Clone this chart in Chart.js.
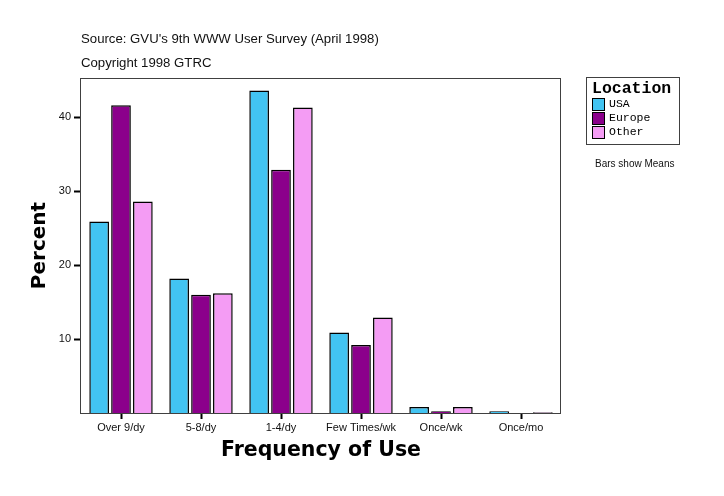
<!DOCTYPE html>
<html>
<head>
<meta charset="utf-8">
<script src="https://cdn.jsdelivr.net/npm/chart.js@4/dist/chart.umd.min.js"></script>
<style>
  html, body { margin: 0; padding: 0; background: #fff; }
  #wrap { position: relative; width: 724px; height: 496px; overflow: hidden; }
  canvas { position: absolute; left: 0; top: 0; }
  .note { position: absolute; font-family: "Liberation Sans", Arial, sans-serif; color: #111; white-space: nowrap; }
  #legend { position: absolute; left: 586px; top: 77px; width: 92px; height: 66px; border: 1px solid #404040; background: #fff; }
  #legend .ttl { position: absolute; left: 5px; top: 1px; font-family: "Liberation Mono", monospace; font-weight: bold; font-size: 16.5px; color: #000; }
  #legend .item { position: absolute; left: 5px; height: 14px; font-family: "Liberation Mono", monospace; font-size: 11.5px; color: #000; line-height: 14px; }
  #legend .sw { position: absolute; left: 0; top: 0; width: 11px; height: 11px; border: 1px solid #000; }
  #legend .lbl { position: absolute; left: 17px; top: -1px; white-space: nowrap; }
</style>
</head>
<body>
<div id="wrap">
  <canvas id="c" width="724" height="496"></canvas>
  <div class="note" style="left:81px; top:31px; font-size:13.2px;">Source: GVU's 9th WWW User Survey (April 1998)</div>
  <div class="note" style="left:81px; top:55px; font-size:13.2px;">Copyright 1998 GTRC</div>
  <div id="legend"></div>
  <div class="note" style="left:595px; top:158px; font-size:10px;">Bars show Means</div>
</div>
<script>
const categories = ["Over 9/dy", "5-8/dy", "1-4/dy", "Few Times/wk", "Once/wk", "Once/mo"];
const seriesNames = ["USA", "Europe", "Other"];
const usaValues = [25.9, 18.2, 43.6, 10.9, 0.8, 0.25];
const europeValues = [41.6, 16.0, 32.9, 9.2, 0.25, 0];
const otherValues = [28.6, 16.2, 41.3, 12.9, 0.8, 0.1];
const yTickValues = [10, 20, 30, 40];
const seriesColors = ["#42C4F2", "#8B008B", "#F49CF4"];
const legendTitle = "Location";
const xTitle = "Frequency of Use";
const yTitle = "Percent";

// HTML legend built from the series arrays
const lg = document.getElementById('legend');
const t = document.createElement('div'); t.className = 'ttl'; t.textContent = legendTitle; lg.appendChild(t);
seriesNames.forEach((n, i) => {
  const it = document.createElement('div'); it.className = 'item'; it.style.top = (20 + i * 14) + 'px';
  const sw = document.createElement('div'); sw.className = 'sw'; sw.style.background = seriesColors[i];
  const lb = document.createElement('div'); lb.className = 'lbl'; lb.textContent = n;
  it.appendChild(sw); it.appendChild(lb); lg.appendChild(it);
});

const framePlugin = {
  id: 'frame',
  afterDatasetsDraw(chart) {
    const a = chart.chartArea, ctx = chart.ctx;
    ctx.save();
    ctx.strokeStyle = '#404040';
    ctx.lineWidth = 1;
    ctx.strokeRect(Math.round(a.left) - 0.5, Math.round(a.top) + 0.5, Math.round(a.right - a.left), Math.round(a.bottom - a.top));
    ctx.restore();
  }
};

const vals = [usaValues, europeValues, otherValues];
new Chart(document.getElementById('c'), {
  type: 'bar',
  data: {
    labels: categories,
    datasets: seriesNames.map((n, i) => ({
      label: n,
      data: vals[i],
      backgroundColor: seriesColors[i],
      borderColor: '#000',
      borderWidth: 1.5,
      borderSkipped: 'start',
      categoryPercentage: 0.82,
      barPercentage: 0.9
    }))
  },
  options: {
    responsive: false,
    animation: false,
    devicePixelRatio: 1,
    layout: { padding: { left: 0, top: 78, right: 163, bottom: 0 } },
    plugins: { legend: { display: false }, tooltip: { enabled: false } },
    scales: {
      x: {
        afterFit(s) { s.height = 83; },
        grid: { display: true, drawOnChartArea: false, drawTicks: true, tickLength: 6, tickWidth: 2, tickColor: '#000', offset: false },
        border: { display: false },
        ticks: { font: { family: 'Liberation Sans', size: 11 }, color: '#111', padding: 2, maxRotation: 0, autoSkip: false },
        title: { display: true, text: xTitle, font: { family: 'DejaVu Sans', weight: 'bold', size: 20.5 }, color: '#000', padding: { top: 0, bottom: 33 } }
      },
      y: {
        min: 0, max: 45.3,
        afterFit(s) { s.width = 81; },
        afterBuildTicks(s) { s.ticks = yTickValues.map(v => ({ value: v })); },
        grid: { display: true, drawOnChartArea: false, drawTicks: true, tickLength: 7, tickWidth: 2, tickColor: '#000' },
        border: { display: false },
        ticks: { font: { family: 'Liberation Sans', size: 11 }, color: '#111', padding: 3 },
        title: { display: true, text: yTitle, font: { family: 'DejaVu Sans', weight: 'bold', size: 20 }, color: '#000', padding: { top: 28, bottom: 0 } }
      }
    }
  },
  plugins: [framePlugin]
});
</script>
</body>
</html>
